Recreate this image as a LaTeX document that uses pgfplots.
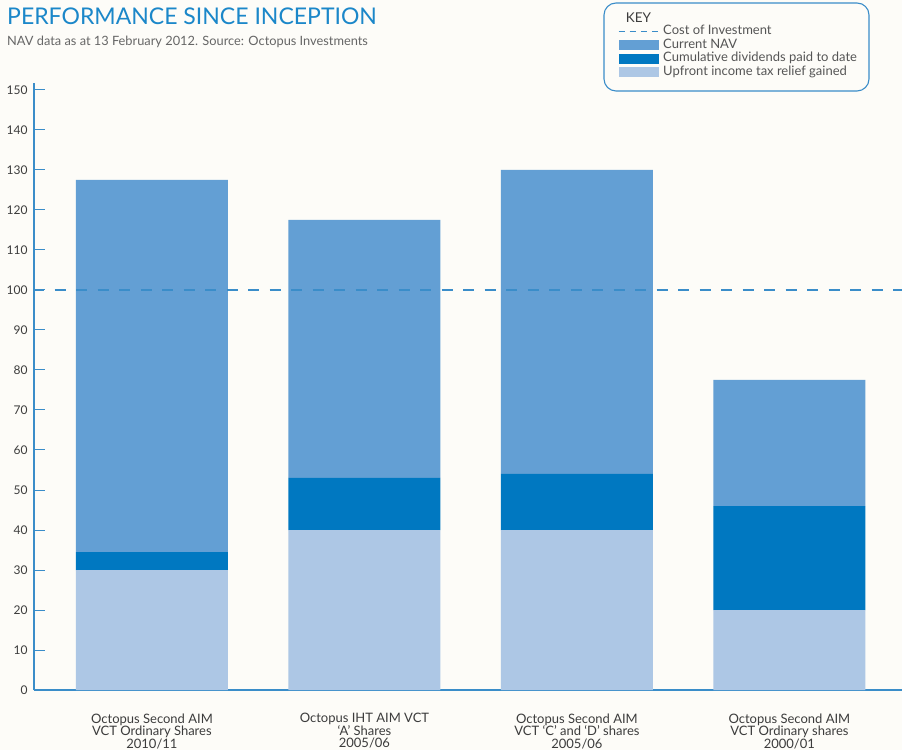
\documentclass[border=0pt]{standalone}
\usepackage{fontspec}
\setmainfont{Lato}
\usepackage{pgfplots}
\pgfplotsset{compat=1.18}
\definecolor{navc}{HTML}{639FD4}
\definecolor{divc}{HTML}{0078C1}
\definecolor{taxc}{HTML}{ADC7E5}
\definecolor{bgc}{HTML}{FDFCF8}
\definecolor{axc}{HTML}{3A8DC9}
\definecolor{titc}{HTML}{1B87C9}
\definecolor{tickc}{HTML}{3C3C3C}
\definecolor{subc}{HTML}{666666}
\definecolor{legc}{HTML}{555555}
\pgfplotsset{
  boxleg/.style={legend image code/.code={\fill[##1] (0pt,-5pt) rectangle (40pt,5pt);}},
  lineleg/.style={legend image code/.code={\draw[##1, draw=axc] (0pt,0pt) -- (40pt,0pt);}},
}
\begin{document}
\begin{tikzpicture}[x=1pt,y=1pt]
\fill[bgc] (0,0) rectangle (902,750);
\useasboundingbox (0,0) rectangle (902,750);
\node[anchor=base west, inner sep=0pt, text=titc, font=\fontsize{23}{26}\selectfont] at (7,725) {PERFORMANCE SINCE INCEPTION};
\node[anchor=base west, inner sep=0pt, text=subc, font=\fontsize{12.8}{14}\selectfont] at (7,704) {NAV data as at 13 February 2012. Source: Octopus Investments};
\draw[axc, line width=1.1pt, rounded corners=12pt] (604,659) rectangle (869,747);
\begin{axis}[
  at={(34pt,60pt)}, anchor=south west,
  scale only axis, width=868pt, height=607pt,
  xmin=-0.555, xmax=3.53, ymin=0, ymax=151.75,
  ybar stacked, bar width=152pt,
  axis x line*=bottom, axis y line*=left,
  axis line style={axc, line width=1.2pt, -},
  ytick={0,10,...,150},
  xtick={0,1,2,3},
  xticklabels={{Octopus Second AIM\\VCT Ordinary Shares\\2010/11},
               {Octopus IHT AIM VCT\\‘A’ Shares\\2005/06},
               {Octopus Second AIM\\VCT ‘C’ and ‘D’ shares\\2005/06},
               {Octopus Second AIM\\VCT Ordinary shares\\2000/01}},
  xtick style={draw=none},
  ytick style={axc, line width=1pt},
  tick align=inside, major tick length=11pt,
  /pgf/number format/assume math mode=true,
  yticklabel style={font=\fontsize{12}{12}\selectfont, text=tickc, xshift=-3pt},
  xticklabel style={align=center, font=\fontsize{13}{12.5}\selectfont, text=tickc, yshift=-20pt},
  legend style={draw=none, fill=none, at={(axis description cs:0.6694,1.122)}, anchor=north west,
    font=\fontsize{13}{13}\selectfont, text=legc, row sep=0pt,
    nodes={inner ysep=1pt, inner xsep=4pt, text height=8.5pt, text depth=3pt}},
  legend cell align=left,
]
\addlegendimage{legend image code/.code={\node[anchor=west, inner sep=0pt, font=\fontsize{13.5}{13.5}\selectfont, text=tickc] at (7pt,-1.5pt) {KEY};}}
\addlegendentry{}
\addlegendimage{lineleg, line width=1pt, dash pattern=on 6pt off 5pt}
\addlegendentry{Cost of Investment}
\addlegendimage{boxleg, fill=navc, draw=none}
\addlegendentry{Current NAV}
\addlegendimage{boxleg, fill=divc, draw=none}
\addlegendentry{Cumulative dividends paid to date}
\addlegendimage{boxleg, fill=taxc, draw=none}
\addlegendentry{Upfront income tax relief gained}
% Upfront income tax relief
\addplot[fill=taxc, draw=none] coordinates {(0,30) (1,40) (2,40) (3,20)};
% Cumulative dividends
\addplot[fill=divc, draw=none] coordinates {(0,4.5) (1,13) (2,14) (3,26)};
% Current NAV
\addplot[fill=navc, draw=none] coordinates {(0,93) (1,64.5) (2,76) (3,31.5)};
\coordinate (costL) at (axis cs:-0.555,100);
\coordinate (costR) at (axis cs:3.53,100);
\end{axis}
\draw[axc, line width=1.3pt, dash pattern=on 11pt off 10.5pt, dash phase=1pt] (costL) -- (costR);
\end{tikzpicture}
\end{document}
